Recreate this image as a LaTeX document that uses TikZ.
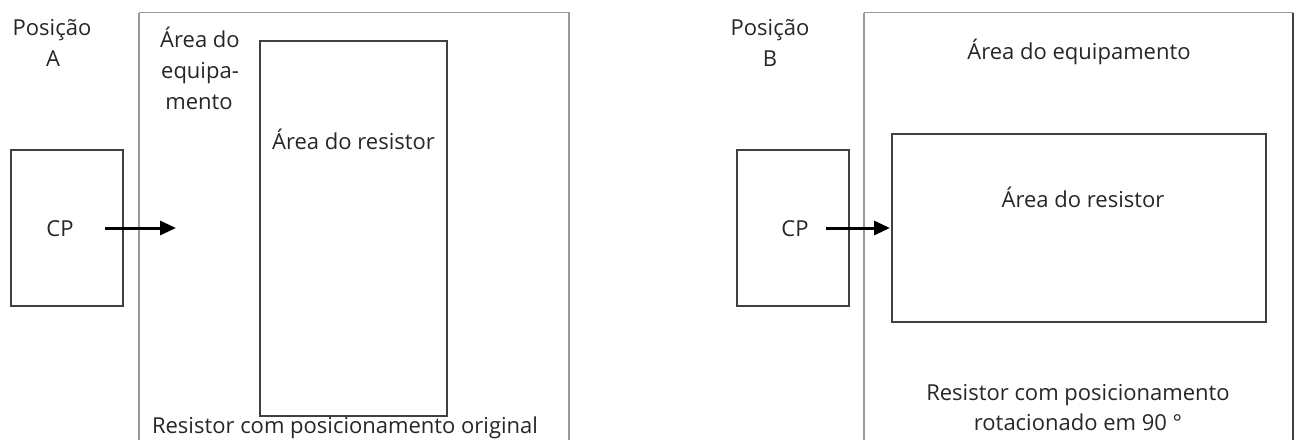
\documentclass[tikz,border=0pt]{standalone}
\usepackage{fontspec}
\setmainfont{Open Sans}
\usetikzlibrary{arrows.meta,fit}
\begin{document}
\begin{tikzpicture}[x=0.5pt,y=-0.5pt,
  every node/.style={font=\fontsize{11}{15.5}\selectfont, text=black!85},
  outer/.style={draw=black!40, line width=0.8pt, inner sep=0pt},
  inner/.style={draw=black!75, line width=0.6pt, inner sep=0pt},
  lbl/.style={inner sep=0pt, anchor=base},
  push/.style={line width=1.5pt, -{Triangle[length=8pt,width=7pt]}}]
\useasboundingbox (0,0) rectangle (1299,439);

% ---- position A ----
\coordinate (eqA1) at (139,12.5);
\coordinate (eqA2) at (569,460);
\draw[outer] (eqA1) -- (eqA1 |- eqA2) (eqA1) -- (eqA2 |- eqA1) -- (eqA2);
\node[inner, fit={(260,41) (447,416)}] (resA) {};
\node[inner, fit={(11,150) (123,306)}] (cpA) {};
\node[lbl] (posA1) at (52,35) {Posição};
\node[lbl] (posA2) at (53,66) {A};
\node[lbl] (eqtxtA1) at (200,47) {Área do};
\node[lbl] (eqtxtA2) at (200,78) {equipa-};
\node[lbl] (eqtxtA3) at (199,109) {mento};
\node[lbl] (restxtA) at (353.5,149) {Área do resistor};
\node[lbl] (cptxtA) at (60,236) {CP};
\node[lbl] (capA) at (345,433) {Resistor com posicionamento original};
\coordinate (aA1) at (105,228);
\coordinate (aA2) at (176,228);
\draw[push] (aA1) -- (aA2);

% ---- position B ----
\coordinate (eqB1) at (864,12.5);
\coordinate (eqB2) at (1293,460);
\draw[outer] (eqB1) -- (eqB1 |- eqB2) (eqB1) -- (eqB2 |- eqB1);
\draw[draw=black!75, line width=0.6pt] (eqB2 |- eqB1) -- (eqB2);
\node[inner, fit={(892,134) (1266,322)}] (resB) {};
\node[inner, fit={(737,150) (849,306)}] (cpB) {};
\node[lbl] (posB1) at (770,35) {Posição};
\node[lbl] (posB2) at (770,66) {B};
\node[lbl] (eqtxtB) at (1079,59) {Área do equipamento};
\node[lbl] (restxtB) at (1083,207) {Área do resistor};
\node[lbl] (cptxtB) at (795,236) {CP};
\node[lbl] (capB1) at (1078,400) {Resistor com posicionamento};
\node[lbl] (capB2) at (1078,430) {rotacionado em 90 °};
\coordinate (aB1) at (826,228);
\coordinate (aB2) at (890,228);
\draw[push] (aB1) -- (aB2);
\end{tikzpicture}
\end{document}
